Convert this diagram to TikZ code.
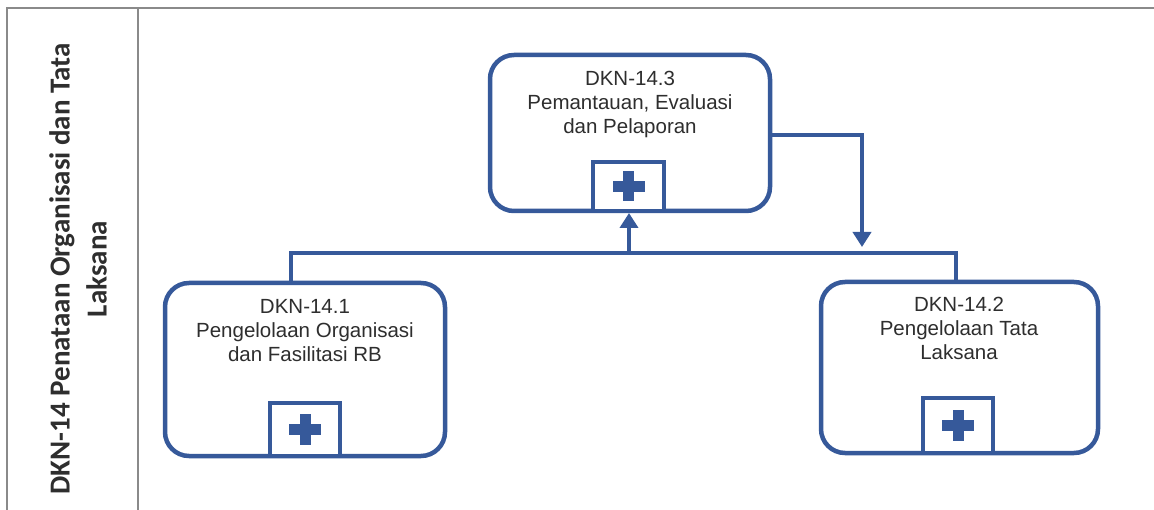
\documentclass[tikz,border=0pt]{standalone}
\usepackage{fontspec}
\setmainfont{Liberation Sans}
\newfontfamily\boxfont{Liberation Sans}
\newfontfamily\labfont{Carlito}
\usetikzlibrary{arrows.meta,calc}
\definecolor{bpblue}{HTML}{36599A}
\definecolor{txtgray}{HTML}{2E2E2E}
\definecolor{framegray}{HTML}{8A8A8A}
\tikzset{
  proc/.style={draw=bpblue, line width=4.5pt, rounded corners=24pt, fill=white, inner sep=0pt},
  plusbox/.style={draw=bpblue, line width=4pt, fill=white, inner sep=0pt},
  ptext/.style={text=txtgray, align=center, font=\boxfont\fontsize{20.5}{24}\selectfont, inner sep=0pt},
  conn/.style={draw=bpblue, line width=4.5pt},
  arr/.style={conn, -{Triangle[width=18pt,length=15pt]}},
  frame/.style={draw=framegray, line width=1.5pt}
}
\newcommand{\plusmark}[1]{%
  \fill[bpblue] ($(#1)+(-16,-5.5)$) rectangle ($(#1)+(16,5.5)$);
  \fill[bpblue] ($(#1)+(-5.5,-15)$) rectangle ($(#1)+(5.5,15)$);}
\begin{document}
\begin{tikzpicture}[x=1pt,y=-1pt]
\useasboundingbox (0,0) rectangle (1154,510);
% frame
\draw[frame] (1154,8) -- (7,8) -- (7,510);
\draw[frame] (138,8) -- (138,510);
% lane label
\node[rotate=90, text=txtgray, align=center, font=\labfont\bfseries\fontsize{29}{37}\selectfont, inner sep=0pt] (lane) at (78,269) {DKN-14 Penataan Organisasi dan Tata\\Laksana};
% boxes
\node[proc, minimum width=280pt, minimum height=156pt] (b3) at (630,133) {};
\node[proc, minimum width=280pt, minimum height=173pt] (b1) at (305,369.5) {};
\node[proc, minimum width=277pt, minimum height=171pt] (b2) at (959.5,367.5) {};
% texts
\node[ptext] (t3) at (630,104) {DKN-14.3\\Pemantauan, Evaluasi\\dan Pelaporan};
\node[ptext] (t1) at (305,331) {DKN-14.1\\Pengelolaan Organisasi\\dan Fasilitasi RB};
\node[ptext] (t2) at (959,328) {DKN-14.2\\Pengelolaan Tata\\Laksana};
% plus boxes
\node[plusbox, minimum width=71pt, minimum height=49pt] (p3) at (628.5,186.5) {};
\node[plusbox, minimum width=70pt, minimum height=53pt] (p1) at (305,429.5) {};
\node[plusbox, minimum width=70pt, minimum height=55pt] (p2) at (958,425.5) {};
\plusmark{p3}
\plusmark{p1}
\plusmark{p2}
% connectors
\coordinate (jl) at (291,253);
\coordinate (jr) at (956,253);
\coordinate (jm) at (629,253);
\coordinate (rc) at (862,135);
\draw[conn, line join=miter] (b1.north -| jl) -- (jl) -- (jr) -- (b2.north -| jr);
\draw[arr] (jm) -- (p3.south -| jm);
\draw[arr, line join=miter] (b3.east |- rc) -- (rc) -- ($(rc)+(0,112)$);
\end{tikzpicture}
\end{document}
